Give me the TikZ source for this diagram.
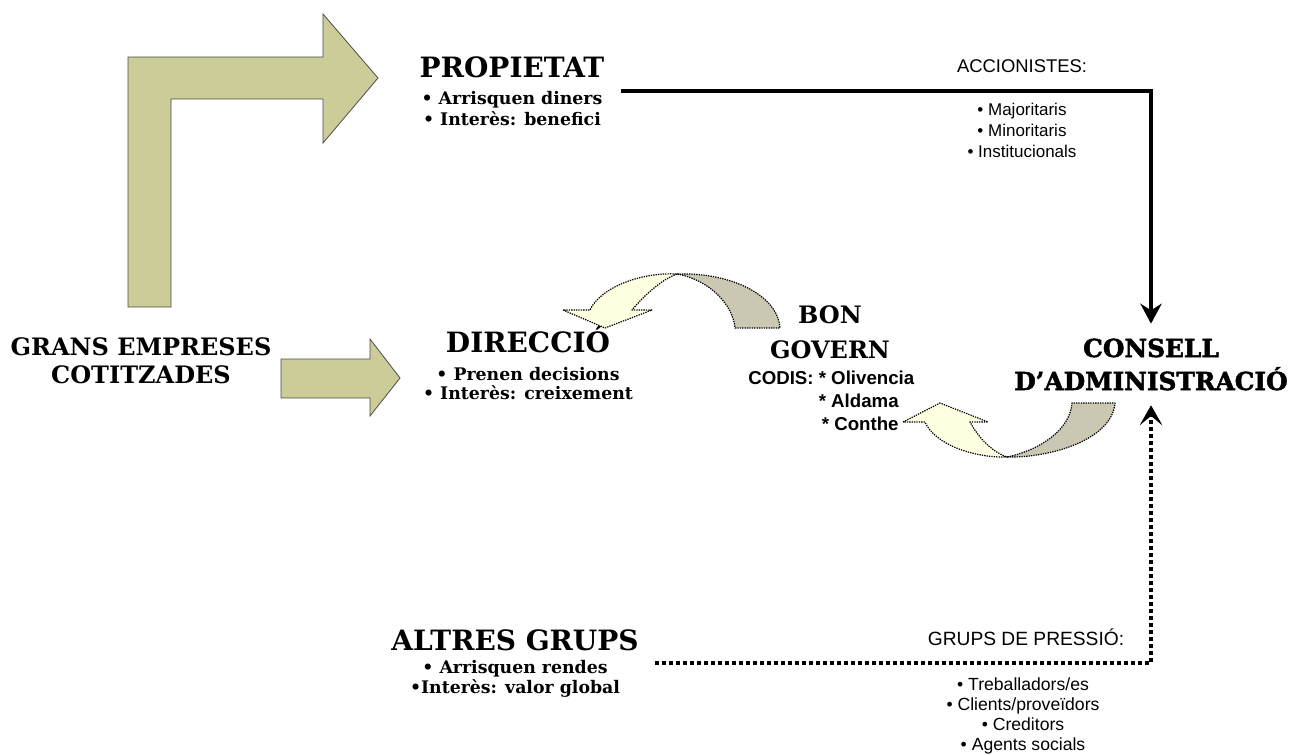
\documentclass[tikz,border=0pt]{standalone}
\usepackage{fontspec}
\setmainfont{DejaVu Serif}
\newfontfamily\arial{Liberation Sans}
\newfontfamily\heavy{DejaVu Serif}[BoldFeatures={FakeBold=2}]
\usetikzlibrary{arrows.meta}

\definecolor{khaki}{RGB}{204,204,153}
\definecolor{cream}{RGB}{255,255,226}
\definecolor{putty}{RGB}{202,200,178}

\newcommand\ttlfont{\fontsize{21}{25}\selectfont\bfseries}
\newcommand\orgfont{\fontsize{18}{21}\selectfont\bfseries}

\begin{document}
\begin{tikzpicture}[x=0.75pt,y=-0.75pt,
  block/.style={fill=khaki, draw=black!70, line width=0.6pt, line join=miter},
  band/.style={draw=black, line width=0.9pt, dash pattern=on 1pt off 0.8pt, line join=round},
  label/.style={inner sep=0pt, anchor=base, align=center},
  group/.style={anchor=base, align=center, inner ysep=2pt, inner xsep=12pt},
  owner/.style={draw, line width=3pt, line join=miter,
    -{Stealth[length=15pt, width=16pt, inset=5pt]}},
  pressure/.style={draw, line width=3pt, dash pattern=on 3pt off 2.25pt,
    -{Stealth[length=15pt, width=17pt, inset=7pt]}}
]
\useasboundingbox (0,0) rectangle (1303,754);

% khaki block arrows leaving the company
\path[block] (128,307) -- (128,57) -- (323,57) -- (323,14) -- (378,78)
  -- (323,143) -- (323,99) -- (171,99) -- (171,307) -- cycle;
\path[block] (281,359) -- (370,359) -- (370,339) -- (400,378)
  -- (370,416) -- (370,398) -- (281,398) -- cycle;

% company (base anchor = baseline of the last line)
\node[label, font=\orgfont] (grans) at (141,383)
  {GRANS EMPRESES\\COTITZADES};

% the three groups
\node[group, font=\fontsize{13}{15.75}\selectfont\bfseries] (prop) at (512,125)
  {{\ttlfont PROPIETAT}\\[4.5pt]• Arrisquen diners\\• Interès: benefici};
\node[group, font=\fontsize{13}{14}\selectfont\bfseries] (dir) at (528,399)
  {{\ttlfont DIRECCIÓ}\\[7pt]• Prenen decisions\\• Interès: creixement};
\node[group, font=\fontsize{13}{15}\selectfont\bfseries] (altres) at (515,693)
  {{\ttlfont ALTRES GRUPS}\\[2.25pt]• Arrisquen rendes\\•Interès: valor global};

% board
\node[anchor=base, align=center, inner xsep=0pt, inner ysep=11pt,
  font=\heavy\bfseries\fontsize{18.6}{24.75}\selectfont] (cons) at (1151,390)
  {CONSELL\\D’ADMINISTRACIÓ};

% good governance
\node[label, font=\orgfont] (bon) at (830,358) {BON\\[5.25pt]GOVERN};
\node[inner sep=0pt, anchor=base west, align=left,
  font=\arial\bfseries\fontsize{14}{17.25}\selectfont] (codis) at (748,430)
  {CODIS: * Olivencia\\\phantom{CODIS: }* Aldama\\\phantom{CODIS: }\,* Conthe};

% shareholders and pressure groups
\node[label, font=\arial\fontsize{13.8}{16}\selectfont] (accion) at (1022,72) {ACCIONISTES:};
\node[label, font=\arial\fontsize{12.75}{15.5}\selectfont] (accionlist) at (1022,157)
  {• Majoritaris\\• Minoritaris\\• Institucionals};
\node[label, font=\arial\fontsize{14.4}{16}\selectfont] (grups) at (1026,645) {GRUPS DE PRESSIÓ:};
\node[label, font=\arial\fontsize{13.2}{15}\selectfont] (grupslist) at (1023,750)
  {• Treballadors/es\\• Clients/proveïdors\\• Creditors\\• Agents socials};

% connectors into the board
\draw[owner] (prop.east) -| (cons.north);
\draw[pressure] (altres.east) -| (cons.south);

% curved arrow: good governance -> management
\path[band, fill=putty] (677,274) .. controls (730,272) and (778,295) .. (780,328)
  -- (735,328) .. controls (733,305) and (710,280) .. (677,274) -- cycle;
\path[band, fill=cream] (563,310) -- (605,328) -- (652,310) -- (632,310)
  .. controls (642,298) and (660,280) .. (677,274)
  .. controls (640,272) and (600,288) .. (590,310) -- cycle;

% curved arrow: board -> good governance
\path[band, fill=putty] (1007,457) .. controls (1050,458) and (1112,440) .. (1115,403)
  -- (1072,403) .. controls (1070,430) and (1040,450) .. (1007,457) -- cycle;
\path[band, fill=cream] (903,422) -- (940,403) -- (988,422) -- (970,422)
  .. controls (980,440) and (993,452) .. (1007,457)
  .. controls (975,458) and (935,445) .. (925,422) -- cycle;
\end{tikzpicture}
\end{document}
